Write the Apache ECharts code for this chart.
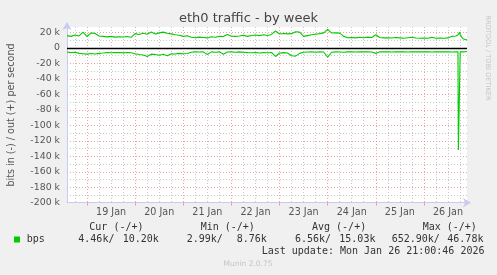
<!DOCTYPE html>
<html><head><meta charset="utf-8">
<script src="https://cdn.jsdelivr.net/npm/echarts@6/dist/echarts.min.js"></script>
<style>html,body{margin:0;padding:0;background:#f0f0f0}#c{width:497px;height:275px}</style>
</head><body><div id="c"></div>
<script>
// hours since 18 Jan 2026 00:00
const hours = [14,16,18,20,22,24,26,28,30,32,
34,36,38,40,42,44,46,48,50,52,
54,56,58,60,62,64,66,68,70,72,
74,76,78,80,82,84,86,88,90,92,
94,96,98,100,102,104,106,108,110,112,
114,116,118,120,122,124,126,128,130,132,
134,136,138,140,142,144,146,148,150,152,
154,156,158,160,162,164,166,168,170,172,
174,176,178,180,182,184,186,188,190,192,
194,196,198,200,202,204,206,208,
209,209.2,209.9,210.1,211.5,213.5];
// out (+), kbit/s
const outKbps = [16.0,15.0,16.8,15.5,20.5,14.8,19.5,18.8,15.5,15.0,
14.3,15.0,14.0,14.5,14.2,14.8,13.8,18.5,17.5,19.0,
17.8,20.5,18.0,19.5,20.5,19.0,18.2,17.0,16.5,15.0,
15.8,13.8,13.2,14.0,13.5,13.0,14.5,13.8,15.0,14.8,
17.5,15.2,15.0,15.5,16.5,15.0,16.2,16.8,16.0,17.0,
16.2,17.5,22.0,18.0,18.8,18.2,18.5,21.0,20.5,15.0,
16.0,17.0,17.8,18.5,19.5,24.0,19.3,19.5,19.2,15.0,
13.2,13.5,13.0,13.8,13.2,14.0,13.5,17.0,13.5,13.0,
13.2,12.8,13.5,13.0,12.5,13.2,13.8,12.8,12.5,12.8,
12.5,13.8,12.5,12.8,12.5,13.0,15.0,15.5,
17.0,19.5,20.5,17.0,12.0,10.2];
// in (-), kbit/s
const inKbps = [5.2,6.0,5.5,7.0,7.5,8.0,7.2,7.8,7.0,6.5,
5.8,6.2,6.0,5.8,6.3,5.9,6.2,7.5,8.5,9.0,
11.0,8.0,8.5,9.5,8.0,10.0,7.5,7.8,7.0,7.5,
7.2,5.5,5.0,5.2,5.0,8.5,5.0,5.5,5.0,8.0,
5.2,5.0,5.5,5.0,5.5,6.0,6.2,6.0,6.5,6.0,
6.2,5.8,11.0,6.5,6.0,6.5,10.0,10.5,7.0,5.5,
5.2,5.0,5.5,5.0,5.2,12.0,5.5,5.0,5.2,5.5,
5.0,4.8,5.2,5.0,4.8,5.0,5.3,7.0,5.0,4.8,
5.0,5.2,5.0,4.8,5.0,5.2,5.0,4.8,5.0,5.0,
4.8,5.2,5.0,5.0,4.8,5.0,5.2,5.0,
5.0,131.8,131.8,5.0,5.0,4.5];
const dayLabels = ['19 Jan','20 Jan','21 Jan','22 Jan','23 Jan','24 Jan','25 Jan','26 Jan'];
const legendHeaders = ['Cur (-/+)','Min (-/+)','Avg (-/+)','Max (-/+)'];
const legendValues = ['4.46k/','10.20k','2.99k/','8.76k','6.56k/','15.03k','652.90k/','46.78k'];

const outData = hours.map((h,i)=>[h,outKbps[i]]);
const inData = hours.map((h,i)=>[h,-inKbps[i]]);

const GRAY = '#c8c8c8', RED = '#eba3a3', AXIS = '#c9caf0';
const mainGrid = {left:67, top:27, right:30, bottom:72.3};
const PXH = 400/199.5, X0 = 14;
const xpx = h => 67 + (h - X0) * PXH;

const chart = echarts.init(document.getElementById('c'), null, {renderer:'canvas'});
const hidden = {show:true, axisLine:{show:false, onZero:false}, axisTick:{show:false}, axisLabel:{show:false}, splitLine:{show:false}};

const mono = '10px "DejaVu Sans Mono"';
const graphics = [
  {type:'text', x:11, y:115, rotation:Math.PI/2, style:{text:'bits in (-) / out (+) per second', font:'9.6px "DejaVu Sans"', fill:'#555', align:'center', verticalAlign:'middle'}},
  {type:'text', x:488, y:58, rotation:-Math.PI/2, style:{text:'RRDTOOL / TOBI OETIKER', font:'6.6px "DejaVu Sans"', fill:'#c4c4c4', align:'center', verticalAlign:'middle'}},
  {type:'rect', shape:{x:14, y:236.5, width:6, height:6}, style:{fill:'#00cc00'}},
  {type:'text', x:26.7, y:239.3, style:{text:'bps', font:mono, fill:'#333', verticalAlign:'middle'}},
  {type:'text', x:261.7, y:251.7, style:{text:'Last update: Mon Jan 26 21:00:46 2026', font:mono, fill:'#333', verticalAlign:'middle'}},
  {type:'text', x:248, y:264.3, style:{text:'Munin 2.0.75', font:'7.5px "DejaVu Sans"', fill:'#c4c4c4', align:'center', verticalAlign:'middle'}}
];
const headX = [89.3,200.7,312,422.7];
legendHeaders.forEach((t,i)=>graphics.push({type:'text', x:headX[i], y:227.7, style:{text:t, font:mono, fill:'#333', verticalAlign:'middle'}}));
const valX = [78.3,122.7,186.7,236.7,295,339.3,391.7,447.3];
legendValues.forEach((t,i)=>graphics.push({type:'text', x:valX[i], y:239.3, style:{text:t, font:mono, fill:'#333', verticalAlign:'middle'}}));

chart.setOption({
  animation:false,
  backgroundColor:'#f0f0f0',
  title:{text:'eth0 traffic - by week', left:'center', top:12, padding:0, textStyle:{fontFamily:'DejaVu Sans', fontSize:13, fontWeight:'normal', color:'#444'}},
  grid:[
    Object.assign({show:true, backgroundColor:'#fff', borderWidth:0}, mainGrid), // 0 minor horizontal
    Object.assign({}, mainGrid), // 1 major horizontal
    {left:xpx(18), right:497-xpx(210), top:27, bottom:72.3}, // 2 minor vertical (6h)
    {left:xpx(24), right:497-xpx(192), top:27, bottom:72.3}, // 3 day lines
    {left:xpx(24), right:497-xpx(204), top:27, bottom:72.3}, // 4 day labels
    Object.assign({}, mainGrid) // 5 data + axes
  ],
  xAxis:[
    Object.assign({}, hidden, {gridIndex:0, type:'value', min:X0, max:213.5}),
    Object.assign({}, hidden, {gridIndex:1, type:'value', min:X0, max:213.5}),
    Object.assign({}, hidden, {gridIndex:2, type:'value', min:18, max:210, interval:6,
      splitLine:{show:true, showMinLine:true, showMaxLine:true, lineStyle:{color:GRAY, width:1, type:[1,2]}}}),
    Object.assign({}, hidden, {gridIndex:3, type:'value', min:24, max:192, interval:24,
      axisTick:{show:true, length:3, inside:false, lineStyle:{color:RED}},
      splitLine:{show:true, showMinLine:true, showMaxLine:true, lineStyle:{color:RED, width:1, type:[1,2]}}}),
    Object.assign({}, hidden, {gridIndex:4, type:'value', min:24, max:204, interval:12,
      axisLabel:{show:true, margin:5, fontFamily:'DejaVu Sans', fontSize:9.6, color:'#555', showMinLabel:true, showMaxLabel:true,
        formatter:v=>{ if (v % 24 !== 12) return ''; return dayLabels[(v-36)/24] || ''; }}}),
    {gridIndex:5, type:'value', min:X0, max:213.5,
      axisLine:{show:true, onZero:false, symbol:['none','arrow'], symbolSize:[7,8], symbolOffset:[0,4], lineStyle:{color:AXIS, width:1}},
      axisTick:{show:false}, axisLabel:{show:false}, splitLine:{show:false}}
  ],
  yAxis:[
    Object.assign({}, hidden, {gridIndex:0, type:'value', min:-200, max:27.1, interval:10,
      splitLine:{show:true, showMinLine:false, showMaxLine:false, lineStyle:{color:GRAY, width:1, type:[1,2]}}}),
    Object.assign({}, hidden, {gridIndex:1, type:'value', min:-200, max:27.1, interval:20,
      splitLine:{show:true, showMinLine:false, showMaxLine:false, lineStyle:{color:RED, width:1, type:[1,2]}}}),
    Object.assign({}, hidden, {gridIndex:2, type:'value', min:-200, max:27.1}),
    Object.assign({}, hidden, {gridIndex:3, type:'value', min:-200, max:27.1}),
    Object.assign({}, hidden, {gridIndex:4, type:'value', min:-200, max:27.1}),
    {gridIndex:5, type:'value', min:-200, max:27.1, interval:10,
      axisLine:{show:true, onZero:false, symbol:['none','arrow'], symbolSize:[7,8], symbolOffset:[0,5], lineStyle:{color:AXIS, width:1}},
      axisTick:{show:false}, splitLine:{show:false},
      axisLabel:{show:true, margin:7, fontFamily:'DejaVu Sans', fontSize:9.4, color:'#555',
        formatter:v=>{ if (Math.abs(v % 20) > 1e-6 || v > 20) return ''; return v === 0 ? '0' : v + ' k'; }}}
  ],
  series:[
    {type:'line', xAxisIndex:5, yAxisIndex:5, data:inData, showSymbol:false, symbol:'none',
      lineStyle:{color:'#00cc00', width:1.1}, itemStyle:{color:'#00cc00'}, z:3},
    {type:'line', xAxisIndex:5, yAxisIndex:5, data:outData, showSymbol:false, symbol:'none',
      lineStyle:{color:'#00cc00', width:1.1}, itemStyle:{color:'#00cc00'}, z:3,
      markLine:{silent:true, symbol:['none','none'], label:{show:false}, animation:false,
        lineStyle:{color:'#000', width:1.4, type:'solid'}, data:[{yAxis:0}]}}
  ],
  graphic:graphics
});
</script></body></html>
